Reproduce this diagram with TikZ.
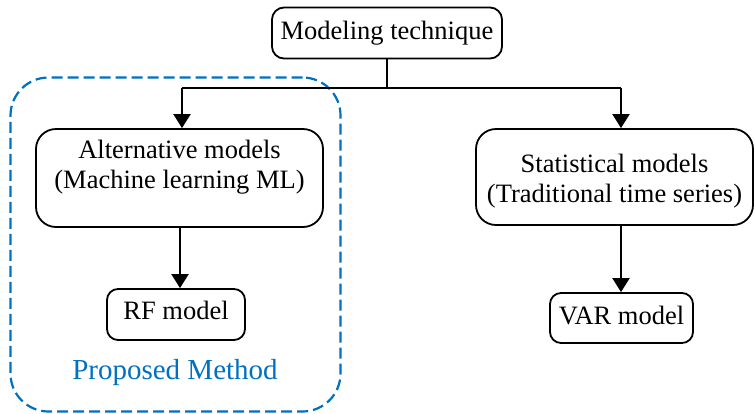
\documentclass[tikz,border=0pt]{standalone}
\usepackage{fontspec}
\setmainfont{Liberation Serif}
\usetikzlibrary{arrows.meta,calc}
\definecolor{propblue}{RGB}{0,112,192}
\begin{document}
\begin{tikzpicture}[x=1pt,y=-1pt,
  box/.style={draw,line width=1.8pt,rounded corners=#1,inner sep=0pt},
  box/.default=12pt,
  lbl/.style={font=\fontsize{26.5}{30}\selectfont,align=center,inner sep=0pt},
  wire/.style={line width=2pt},
  link/.style={line width=2pt,-{Triangle[width=17pt,length=14pt]}},
  group/.style={draw=propblue,line width=2.2pt,dash pattern=on 11pt off 5pt,rounded corners=38pt,inner sep=0pt}
]
\useasboundingbox (0,0) rectangle (755,413);

% dashed frame around the proposed approach
\node[group,minimum width=330pt,minimum height=334pt] (frame) at (175.5,244.5) {};
\node[lbl,text=propblue,font=\fontsize{29}{33}\selectfont] (prop) at (175,373) {Proposed Method};

% boxes
\node[box,lbl,minimum width=230pt,minimum height=51pt] (top) at (387,33) {Modeling technique};

\node[box=20pt,minimum width=287pt,minimum height=98pt] (alt) at (179.5,178) {};
\node[lbl] (altlbl) at (179.5,167) {Alternative models\\(Machine learning ML)};

\node[box=20pt,minimum width=277pt,minimum height=96pt] (stat) at (614.5,177) {};
\node[lbl] (statlbl) at (614.5,181.5) {Statistical models\\(Traditional time series)};

\node[box=11pt,minimum width=138pt,minimum height=51pt] (rf) at (176,314.5) {};
\node[lbl] (rflbl) at (176,310) {RF model};

\node[box=11pt,minimum width=143pt,minimum height=50pt] (var) at (621.5,318) {};
\node[lbl] (varlbl) at (621.5,315) {VAR model};

% connector end points
\coordinate (split) at ($(top.south)+(0,29)$);
\coordinate (lt) at (182,88);
\coordinate (rt) at (621,88);
\coordinate (altout) at (alt.south -| 180,0);
\coordinate (rfin) at (rf.north -| 180,0);
\coordinate (statout) at (stat.south -| 621,0);
\coordinate (varin) at (var.north -| 621,0);

% connectors
\draw[wire] (top.south) -- (split);
\draw[wire] (lt) -- (rt);
\draw[link] (lt) -- (lt |- alt.north);
\draw[link] (rt) -- (rt |- stat.north);
\draw[link] (altout) -- (rfin);
\draw[link] (statout) -- (varin);
\end{tikzpicture}
\end{document}
